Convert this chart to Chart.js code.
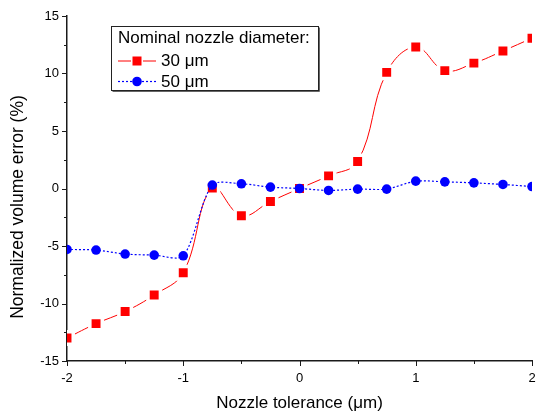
<!DOCTYPE html>
<html><head><meta charset="utf-8">
<script src="https://cdn.jsdelivr.net/npm/chart.js@4.4.1/dist/chart.umd.min.js"></script>
<style>html,body{margin:0;padding:0;background:#fff;}#wrap{width:537px;height:414px;}</style>
</head><body>
<div id="wrap"><canvas id="c" width="537" height="414"></canvas></div>
<script>
const xValues = [-2, -1.75, -1.5, -1.25, -1, -0.75, -0.5, -0.25, 0, 0.25, 0.5, 0.75, 1, 1.25, 1.5, 1.75, 2];
const err30 = [-13.0, -11.75, -10.7, -9.26, -7.32, 0.05, -2.37, -1.13, 0.0, 1.1, 2.35, 10.1, 12.3, 10.25, 10.9, 11.96, 13.07];
const err50 = [-5.3, -5.35, -5.7, -5.79, -5.85, 0.3, 0.41, 0.12, 0.0, -0.17, -0.05, -0.05, 0.64, 0.58, 0.49, 0.35, 0.17];
const seriesLabels = ['30 \u03bcm', '50 \u03bcm'];
const legendTitle = 'Nominal nozzle diameter:';
const xTitle = 'Nozzle tolerance (\u03bcm)';
const yTitle = 'Normalized volume error (%)';

const FONT = '"Liberation Sans", Arial, sans-serif';

const tickPlugin = {
  id: 'outerTicks',
  afterDraw(chart) {
    const ctx = chart.ctx, ca = chart.chartArea;
    ctx.save();
    ctx.strokeStyle = '#1a1a1a';
    ctx.lineWidth = 1;
    const xs = chart.scales.x, ys = chart.scales.y;
    xs.ticks.forEach(t => {
      const px = Math.round(xs.getPixelForValue(t.value)) + 0.5;
      const len = Number.isInteger(t.value) ? 5 : 3;
      ctx.beginPath(); ctx.moveTo(px, ca.bottom); ctx.lineTo(px, ca.bottom + len); ctx.stroke();
    });
    ys.ticks.forEach(t => {
      const py = Math.round(ys.getPixelForValue(t.value)) + 0.5;
      const len = (t.value % 5 === 0) ? 5 : 3;
      ctx.beginPath(); ctx.moveTo(ca.left, py); ctx.lineTo(ca.left - len, py); ctx.stroke();
    });
    // y-axis title (placed like the original, slightly below the axis centre)
    ctx.fillStyle = '#000';
    ctx.font = '17.5px ' + FONT;
    ctx.textAlign = 'center';
    ctx.textBaseline = 'middle';
    ctx.translate(18, 207);
    ctx.rotate(-Math.PI / 2);
    ctx.fillText(yTitle, 0, 0);
    ctx.restore();
  }
};

const legendPlugin = {
  id: 'boxLegend',
  afterDraw(chart) {
    const ctx = chart.ctx;
    ctx.save();
    const bx = 111.5, by = 26.5, bw = 207, bh = 64;
    ctx.fillStyle = '#fff';
    ctx.fillRect(bx, by, bw, bh);
    ctx.strokeStyle = '#222';
    ctx.lineWidth = 1;
    ctx.strokeRect(bx, by, bw, bh);
    ctx.strokeStyle = '#666';
    ctx.beginPath();
    ctx.moveTo(bx + bw + 1, by + 1); ctx.lineTo(bx + bw + 1, by + bh + 1); ctx.lineTo(bx + 1, by + bh + 1);
    ctx.stroke();
    ctx.fillStyle = '#000';
    ctx.font = '17px ' + FONT;
    ctx.textBaseline = 'middle';
    ctx.textAlign = 'left';
    ctx.fillText(legendTitle, 118, 38);
    const rows = [60.5, 81];
    const dsets = chart.data.datasets;
    dsets.forEach((ds, i) => {
      const y = rows[i];
      ctx.save();
      ctx.strokeStyle = ds.borderColor;
      ctx.lineWidth = ds.borderWidth;
      if (ds.borderDash) ctx.setLineDash(ds.borderDash);
      ctx.beginPath();
      if (ds.pointStyle === 'rect') {
        ctx.moveTo(118, y + 0.5); ctx.lineTo(131, y + 0.5);
        ctx.moveTo(143, y + 0.5); ctx.lineTo(156, y + 0.5);
      } else {
        ctx.moveTo(118, y + 0.5); ctx.lineTo(156, y + 0.5);
      }
      ctx.stroke();
      ctx.setLineDash([]);
      ctx.fillStyle = ds.pointBackgroundColor;
      if (ds.pointStyle === 'rect') {
        ctx.fillRect(137 - 4.5, y - 4, 9, 9);
      } else {
        ctx.beginPath(); ctx.arc(137, y + 0.5, 4.8, 0, Math.PI * 2); ctx.fill();
      }
      ctx.restore();
      ctx.fillStyle = '#000';
      ctx.fillText(ds.label, 161, y + 1);
    });
    ctx.restore();
  }
};

const toPts = vals => xValues.map((x, i) => ({x: x, y: vals[i]}));

new Chart(document.getElementById('c'), {
  type: 'line',
  data: {
    datasets: [
      {
        label: seriesLabels[0],
        data: toPts(err30),
        borderColor: '#ff0000',
        borderWidth: 1,
        tension: 0.4,
        pointStyle: 'rect',
        pointRadius: 8.8,
        pointBackgroundColor: '#ff0000',
        pointBorderColor: '#ffffff',
        pointBorderWidth: 3.5,
        order: 2
      },
      {
        label: seriesLabels[1],
        data: toPts(err50),
        borderColor: '#0000ff',
        borderWidth: 1.2,
        borderDash: [2, 2],
        tension: 0.28,
        pointStyle: 'circle',
        pointRadius: 4.8,
        pointBackgroundColor: '#0000ff',
        pointBorderWidth: 0,
        order: 1
      }
    ]
  },
  options: {
    responsive: false,
    animation: false,
    events: [],
    devicePixelRatio: 1,
    layout: { padding: 0, autoPadding: false },
    plugins: { legend: { display: false }, tooltip: { enabled: false } },
    scales: {
      x: {
        type: 'linear', min: -2, max: 2,
        afterFit: s => { s.height = 53; s.paddingRight = 5; s.paddingLeft = 0; },
        border: { display: true, color: '#1a1a1a', width: 1.5 },
        grid: { drawOnChartArea: false, drawTicks: true, tickLength: 5, tickColor: 'rgba(0,0,0,0)' },
        ticks: {
          stepSize: 0.5, padding: 5, color: '#000', maxRotation: 0, autoSkip: false,
          font: { family: FONT, size: 13 },
          callback: v => Number.isInteger(v) ? String(v) : ''
        },
        title: { display: true, text: xTitle, color: '#000', padding: 0, font: { family: FONT, size: 17 } }
      },
      y: {
        type: 'linear', min: -15, max: 15,
        afterFit: s => { s.width = 67; s.paddingTop = 16; s.paddingBottom = 0; },
        border: { display: true, color: '#1a1a1a', width: 1.5 },
        grid: { drawOnChartArea: false, drawTicks: true, tickLength: 5, tickColor: 'rgba(0,0,0,0)' },
        ticks: {
          stepSize: 2.5, padding: 3, color: '#000', autoSkip: false,
          font: { family: FONT, size: 13 },
          callback: v => (v % 5 === 0) ? String(v) : ''
        },
        title: { display: false, text: yTitle }
      }
    }
  },
  plugins: [tickPlugin, legendPlugin]
});
</script>
</body></html>
